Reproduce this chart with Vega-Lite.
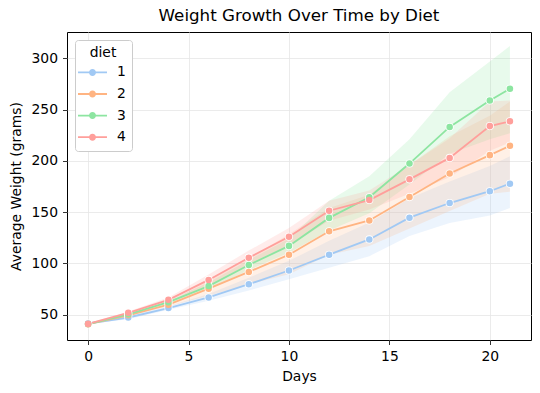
{
  "$schema": "https://vega.github.io/schema/vega-lite/v6.json",
  "width": 464,
  "height": 308,
  "autosize": "none",
  "padding": {"left": 67, "top": 32, "right": 9, "bottom": 53},
  "background": "white",
  "title": {"text": "Weight Growth Over Time by Diet", "fontSize": 16.7, "fontWeight": "normal", "offset": 7, "color": "black", "anchor": "middle"},
  "data": {"values": [
    {"diet": "1", "day": 0, "mean": 41.4, "lo": 40.9, "hi": 41.9},
    {"diet": "1", "day": 2, "mean": 47.25, "lo": 45.6, "hi": 48.9},
    {"diet": "1", "day": 4, "mean": 56.5, "lo": 54.8, "hi": 58.2},
    {"diet": "1", "day": 6, "mean": 66.8, "lo": 63.5, "hi": 70.2},
    {"diet": "1", "day": 8, "mean": 79.7, "lo": 73.5, "hi": 86.0},
    {"diet": "1", "day": 10, "mean": 93.1, "lo": 84.5, "hi": 102.5},
    {"diet": "1", "day": 12, "mean": 108.5, "lo": 95.8, "hi": 122.0},
    {"diet": "1", "day": 14, "mean": 123.4, "lo": 107.1, "hi": 140.0},
    {"diet": "1", "day": 16, "mean": 144.6, "lo": 126.8, "hi": 163.5},
    {"diet": "1", "day": 18, "mean": 158.9, "lo": 139.3, "hi": 180.0},
    {"diet": "1", "day": 20, "mean": 170.4, "lo": 146.7, "hi": 195.0},
    {"diet": "1", "day": 21, "mean": 177.75, "lo": 154.0, "hi": 204.5},
    {"diet": "2", "day": 0, "mean": 40.7, "lo": 40.1, "hi": 41.3},
    {"diet": "2", "day": 2, "mean": 49.4, "lo": 48.6, "hi": 50.2},
    {"diet": "2", "day": 4, "mean": 59.8, "lo": 57.9, "hi": 61.7},
    {"diet": "2", "day": 6, "mean": 75.4, "lo": 68.5, "hi": 83.5},
    {"diet": "2", "day": 8, "mean": 91.7, "lo": 79.5, "hi": 105.0},
    {"diet": "2", "day": 10, "mean": 108.5, "lo": 89.5, "hi": 128.5},
    {"diet": "2", "day": 12, "mean": 131.3, "lo": 108.5, "hi": 154.0},
    {"diet": "2", "day": 14, "mean": 141.9, "lo": 117.0, "hi": 167.0},
    {"diet": "2", "day": 16, "mean": 164.7, "lo": 134.0, "hi": 196.0},
    {"diet": "2", "day": 18, "mean": 187.7, "lo": 151.0, "hi": 224.0},
    {"diet": "2", "day": 20, "mean": 205.6, "lo": 168.0, "hi": 244.0},
    {"diet": "2", "day": 21, "mean": 214.7, "lo": 170.0, "hi": 258.0},
    {"diet": "3", "day": 0, "mean": 40.8, "lo": 40.2, "hi": 41.4},
    {"diet": "3", "day": 2, "mean": 50.4, "lo": 49.5, "hi": 51.3},
    {"diet": "3", "day": 4, "mean": 62.2, "lo": 60.6, "hi": 63.8},
    {"diet": "3", "day": 6, "mean": 77.9, "lo": 74.5, "hi": 81.5},
    {"diet": "3", "day": 8, "mean": 98.4, "lo": 93.5, "hi": 103.3},
    {"diet": "3", "day": 10, "mean": 117.1, "lo": 110.5, "hi": 124.0},
    {"diet": "3", "day": 12, "mean": 144.4, "lo": 132.0, "hi": 161.0},
    {"diet": "3", "day": 14, "mean": 164.5, "lo": 149.0, "hi": 185.0},
    {"diet": "3", "day": 16, "mean": 197.4, "lo": 177.0, "hi": 221.0},
    {"diet": "3", "day": 18, "mean": 233.1, "lo": 207.0, "hi": 267.0},
    {"diet": "3", "day": 20, "mean": 258.9, "lo": 221.0, "hi": 297.0},
    {"diet": "3", "day": 21, "mean": 270.3, "lo": 227.0, "hi": 312.0},
    {"diet": "4", "day": 0, "mean": 41.0, "lo": 40.4, "hi": 41.6},
    {"diet": "4", "day": 2, "mean": 51.8, "lo": 50.6, "hi": 53.0},
    {"diet": "4", "day": 4, "mean": 64.5, "lo": 62.3, "hi": 66.7},
    {"diet": "4", "day": 6, "mean": 83.9, "lo": 78.3, "hi": 89.3},
    {"diet": "4", "day": 8, "mean": 105.6, "lo": 99.5, "hi": 112.5},
    {"diet": "4", "day": 10, "mean": 126.0, "lo": 117.5, "hi": 134.5},
    {"diet": "4", "day": 12, "mean": 151.4, "lo": 141.5, "hi": 161.0},
    {"diet": "4", "day": 14, "mean": 161.8, "lo": 152.5, "hi": 171.0},
    {"diet": "4", "day": 16, "mean": 182.0, "lo": 168.0, "hi": 196.0},
    {"diet": "4", "day": 18, "mean": 202.9, "lo": 184.0, "hi": 222.0},
    {"diet": "4", "day": 20, "mean": 233.9, "lo": 210.0, "hi": 258.0},
    {"diet": "4", "day": 21, "mean": 238.6, "lo": 218.0, "hi": 259.0}
  ]},
  "encoding": {
    "x": {"field": "day", "type": "quantitative", "title": "Days",
      "scale": {"domain": [-1.05, 22.05], "nice": false, "zero": false},
      "axis": {"values": [0, 5, 10, 15, 20], "titlePadding": 6}}
  },
  "layer": [
    {
      "mark": {"type": "area", "opacity": 0.2},
      "encoding": {
        "y": {"field": "lo", "type": "quantitative", "title": "Average Weight (grams)",
          "scale": {"domain": [25.3, 325.7], "nice": false, "zero": false},
          "axis": {"values": [50, 100, 150, 200, 250, 300], "titlePadding": 7}},
        "y2": {"field": "hi"},
        "color": {"field": "diet", "type": "nominal", "legend": null,
          "scale": {"domain": ["1", "2", "3", "4"], "range": ["#a1c9f4", "#ffb482", "#8de5a1", "#ff9f9b"]}}
      }
    },
    {
      "mark": {"type": "line", "strokeWidth": 1.8},
      "encoding": {
        "y": {"field": "mean", "type": "quantitative"},
        "color": {"field": "diet", "type": "nominal", "legend": null}
      }
    },
    {
      "mark": {"type": "point", "filled": true, "fill": "white", "opacity": 1, "size": 66, "shape": "circle"},
      "encoding": {
        "y": {"field": "mean", "type": "quantitative"},
        "detail": {"field": "diet"}
      }
    },
    {
      "mark": {"type": "point", "filled": true, "opacity": 1, "size": 43, "shape": "circle"},
      "encoding": {
        "y": {"field": "mean", "type": "quantitative"},
        "color": {"field": "diet", "type": "nominal",
          "legend": {
            "title": "diet", "orient": "top-left", "offset": 8,
            "symbolType": "M-2,-0.124H-0.45V0.124H-2Z M0.45,-0.124H2V0.124H0.45Z M0.483,0A0.483,0.483 0 1,1 -0.483,0A0.483,0.483 0 1,1 0.483,0Z",
            "symbolSize": 210, "symbolStrokeWidth": 0, "symbolOpacity": 1, "symbolOffset": 4,
            "labelOffset": 17, "labelFontSize": 13.9, "labelColor": "black",
            "titleFontSize": 13.9, "titleFontWeight": "normal", "titleColor": "black", "titleAnchor": "middle", "titlePadding": 5,
            "rowPadding": 6.6, "padding": 6,
            "strokeColor": "#cccccc", "fillColor": "white", "cornerRadius": 3
          }}
      }
    }
  ],
  "resolve": {"legend": {"color": "independent"}},
  "config": {
    "font": "DejaVu Sans",
    "view": {"stroke": "black", "strokeWidth": 1},
    "axis": {"domain": false, "grid": true, "gridColor": "#e6e6e6", "gridWidth": 0.8,
      "tickColor": "black", "tickSize": 4.5, "tickWidth": 0.8,
      "labelFontSize": 13.9, "labelColor": "black", "labelPadding": 5,
      "titleFontSize": 13.9, "titleFontWeight": "normal", "titleColor": "black"}
  }
}
